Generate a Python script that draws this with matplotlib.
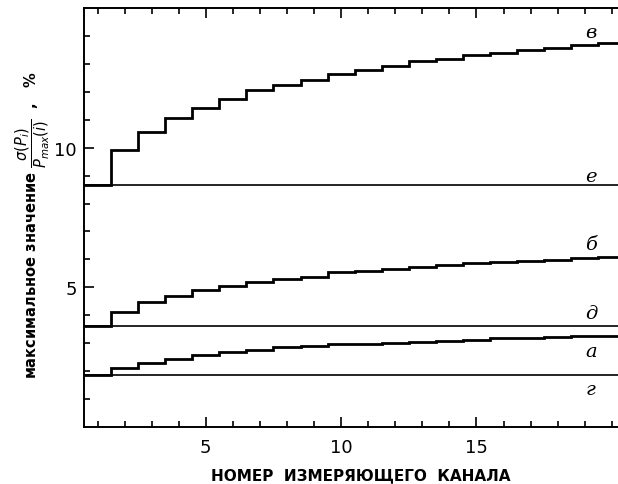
import numpy as np
import matplotlib
matplotlib.use("Agg")
import matplotlib.pyplot as plt

# channel numbers 1..20
channels = list(range(1, 21))

# horizontal reference levels (%)
level_g = 1.85   # г
level_d = 3.60   # д
level_e = 8.67   # е

# step curves (value per measuring channel, %)
curve_a = [1.85, 2.11, 2.30, 2.44, 2.59, 2.68, 2.76, 2.86, 2.89, 2.97,
           2.98, 3.00, 3.05, 3.09, 3.13, 3.18, 3.20, 3.21, 3.24, 3.26]
curve_b = [3.60, 4.11, 4.46, 4.70, 4.90, 5.06, 5.18, 5.30, 5.38, 5.54,
           5.57, 5.66, 5.74, 5.80, 5.86, 5.92, 5.95, 5.99, 6.05, 6.10]
curve_v = [8.67, 9.91, 10.56, 11.05, 11.43, 11.73, 12.05, 12.26, 12.43, 12.62,
           12.77, 12.92, 13.10, 13.19, 13.33, 13.39, 13.51, 13.57, 13.67, 13.75]

x_ticks = [5, 10, 15]
y_ticks = [5, 10]

fig = plt.figure(figsize=(6.18, 4.85), dpi=100)
ax = fig.add_axes([84 / 618, 1 - 428 / 485, 1 - 84 / 618, (428 - 9) / 485])

edges = np.arange(channels[0] - 0.5, channels[-1] + 1.5, 1.0)
for vals in (curve_a, curve_b, curve_v):
    ax.stairs(vals, edges, color="black", linewidth=2.0, baseline=None)
for lvl in (level_g, level_d, level_e):
    ax.axhline(lvl, color="black", linewidth=1.2)

ax.set_xlim(0.5, 20.23)
ax.set_ylim(0, 15)

ax.spines["right"].set_visible(False)
for s in ("left", "top", "bottom"):
    ax.spines[s].set_linewidth(1.4)

ax.set_xticks(x_ticks)
ax.set_xticks(range(1, 21), minor=True)
ax.set_yticks(y_ticks)
ax.set_yticks(range(1, 15), minor=True)
ax.tick_params(which="both", direction="in", top=True, right=False, width=1.2)
ax.tick_params(which="major", length=7, labelsize=13, pad=8)
ax.tick_params(which="minor", length=4)
ax.tick_params(axis="y", which="major", pad=5)

ax.set_xlabel("НОМЕР  ИЗМЕРЯЮЩЕГО  КАНАЛА", fontsize=11, fontweight="bold",
              labelpad=10)
ax.xaxis.set_label_coords((361 - 84) / (618 - 84), -0.095)

fig.text(32 / 618, 1 - 225 / 485,
         r"максимальное значение $\dfrac{\sigma(P_i)}{P_{max}(i)}$  ,   %",
         rotation=90, ha="center", va="center", fontsize=10.5,
         fontweight="bold")

lab_text = {"в": ("в", 33), "е": ("е", 177), "б": ("б", 245),
            "д": ("д", 314), "а": ("а", 352), "г": ("г", 390)}
for key, (txt, ypx) in lab_text.items():
    fig.text(591 / 618, 1 - ypx / 485, txt, ha="center", va="center",
             fontsize=14, family="DejaVu Serif", style="italic")

fig.savefig("out.png", dpi=100)
